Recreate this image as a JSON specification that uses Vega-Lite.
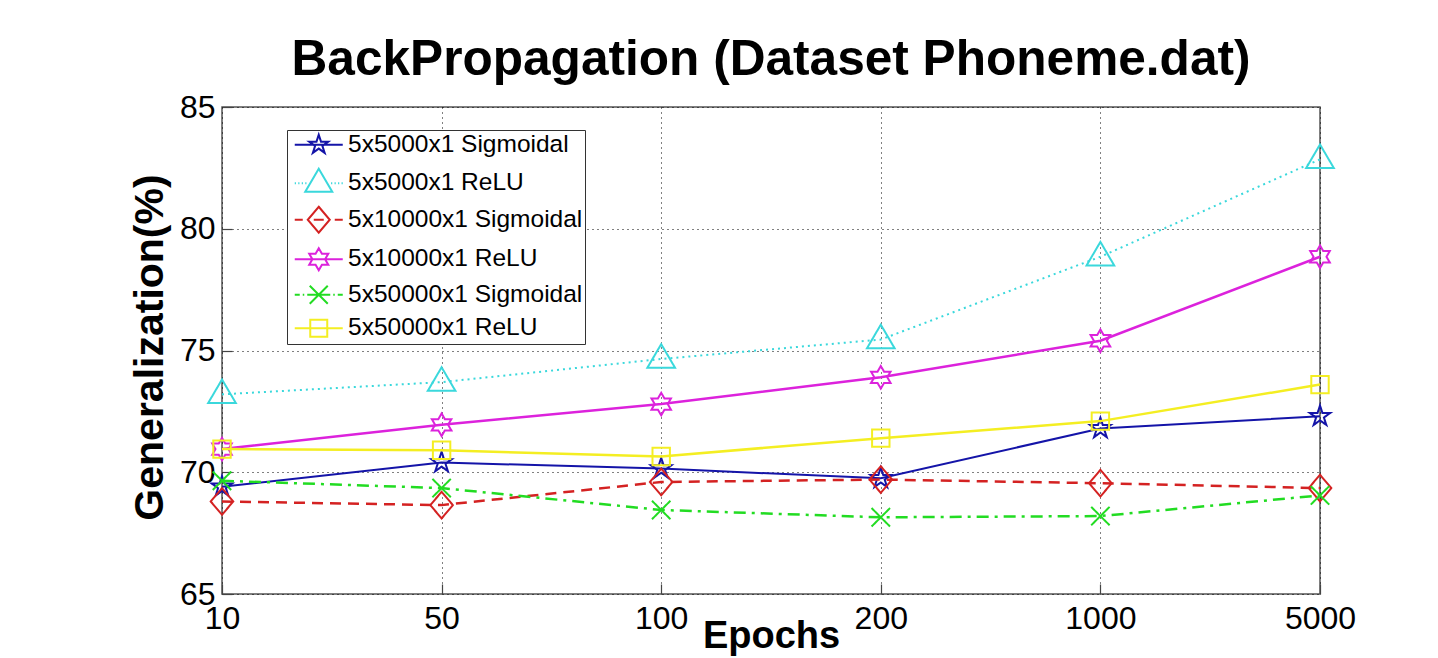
{
  "$schema": "https://vega.github.io/schema/vega-lite/v6.json",
  "width": 1098,
  "height": 487,
  "autosize": {"type": "none"},
  "padding": {"left": 222, "top": 107, "right": 118, "bottom": 64},
  "background": "white",
  "title": {
    "text": "BackPropagation (Dataset Phoneme.dat)",
    "font": "Liberation Sans",
    "fontSize": 49.6,
    "fontWeight": "bold",
    "color": "#000",
    "anchor": "middle",
    "frame": "group",
    "baseline": "alphabetic",
    "offset": -34
  },
  "config": {
    "view": {"stroke": "#555", "strokeWidth": 1.5}
  },
  "data": {
    "values": [
      {"series": "5x5000x1 Sigmoidal", "epochs": "10", "value": 69.4},
      {"series": "5x5000x1 Sigmoidal", "epochs": "50", "value": 70.4},
      {"series": "5x5000x1 Sigmoidal", "epochs": "100", "value": 70.15},
      {"series": "5x5000x1 Sigmoidal", "epochs": "200", "value": 69.75},
      {"series": "5x5000x1 Sigmoidal", "epochs": "1000", "value": 71.8},
      {"series": "5x5000x1 Sigmoidal", "epochs": "5000", "value": 72.3},
      {"series": "5x5000x1 ReLU", "epochs": "10", "value": 73.2},
      {"series": "5x5000x1 ReLU", "epochs": "50", "value": 73.7},
      {"series": "5x5000x1 ReLU", "epochs": "100", "value": 74.65},
      {"series": "5x5000x1 ReLU", "epochs": "200", "value": 75.45},
      {"series": "5x5000x1 ReLU", "epochs": "1000", "value": 78.85},
      {"series": "5x5000x1 ReLU", "epochs": "5000", "value": 82.85},
      {"series": "5x10000x1 Sigmoidal", "epochs": "10", "value": 68.8},
      {"series": "5x10000x1 Sigmoidal", "epochs": "50", "value": 68.65},
      {"series": "5x10000x1 Sigmoidal", "epochs": "100", "value": 69.6},
      {"series": "5x10000x1 Sigmoidal", "epochs": "200", "value": 69.7},
      {"series": "5x10000x1 Sigmoidal", "epochs": "1000", "value": 69.55},
      {"series": "5x10000x1 Sigmoidal", "epochs": "5000", "value": 69.35},
      {"series": "5x10000x1 ReLU", "epochs": "10", "value": 70.95},
      {"series": "5x10000x1 ReLU", "epochs": "50", "value": 71.95},
      {"series": "5x10000x1 ReLU", "epochs": "100", "value": 72.8},
      {"series": "5x10000x1 ReLU", "epochs": "200", "value": 73.9},
      {"series": "5x10000x1 ReLU", "epochs": "1000", "value": 75.4},
      {"series": "5x10000x1 ReLU", "epochs": "5000", "value": 78.85},
      {"series": "5x50000x1 Sigmoidal", "epochs": "10", "value": 69.65},
      {"series": "5x50000x1 Sigmoidal", "epochs": "50", "value": 69.35},
      {"series": "5x50000x1 Sigmoidal", "epochs": "100", "value": 68.45},
      {"series": "5x50000x1 Sigmoidal", "epochs": "200", "value": 68.15},
      {"series": "5x50000x1 Sigmoidal", "epochs": "1000", "value": 68.2},
      {"series": "5x50000x1 Sigmoidal", "epochs": "5000", "value": 69.05},
      {"series": "5x50000x1 ReLU", "epochs": "10", "value": 70.95},
      {"series": "5x50000x1 ReLU", "epochs": "50", "value": 70.9},
      {"series": "5x50000x1 ReLU", "epochs": "100", "value": 70.65},
      {"series": "5x50000x1 ReLU", "epochs": "200", "value": 71.4},
      {"series": "5x50000x1 ReLU", "epochs": "1000", "value": 72.1},
      {"series": "5x50000x1 ReLU", "epochs": "5000", "value": 73.6}
    ]
  },
  "encoding": {
    "x": {
      "field": "epochs",
      "type": "ordinal",
      "sort": ["10", "50", "100", "200", "1000", "5000"],
      "scale": {"type": "point", "padding": 0},
      "axis": {
        "title": "Epochs",
        "titleFont": "Liberation Sans",
        "titleFontSize": 38,
        "titleFontWeight": "bold",
        "titleColor": "#000",
        "titleBaseline": "alphabetic",
        "titleX": 549,
        "titleY": 53,
        "labelFont": "Liberation Sans",
        "labelFontSize": 32,
        "labelColor": "#000",
        "labelAngle": 0,
        "labelPadding": 19,
        "ticks": true,
        "tickSize": -10,
        "tickColor": "#444",
        "tickWidth": 1.2,
        "domain": false,
        "grid": true,
        "gridColor": "#000",
        "gridDash": [1, 4],
        "gridWidth": 1
      }
    },
    "y": {
      "field": "value",
      "type": "quantitative",
      "scale": {"domain": [65, 85], "nice": false, "zero": false},
      "axis": {
        "title": "Generalization(%)",
        "titleFont": "Liberation Sans",
        "titleFontSize": 41,
        "titleFontWeight": "bold",
        "titleColor": "#000",
        "titleBaseline": "alphabetic",
        "titleAngle": -90,
        "titleX": -60,
        "titleY": 240,
        "values": [65, 70, 75, 80, 85],
        "labelFont": "Liberation Sans",
        "labelFontSize": 32,
        "labelColor": "#000",
        "labelPadding": 17,
        "labelFlush": false,
        "ticks": true,
        "tickSize": -10,
        "tickColor": "#444",
        "tickWidth": 1.2,
        "domain": false,
        "grid": true,
        "gridColor": "#000",
        "gridDash": [1, 4],
        "gridWidth": 1
      }
    }
  },
  "layer": [
    {
      "transform": [{"filter": "datum.series === '5x5000x1 Sigmoidal'"}],
      "mark": {"type": "line", "color": "#1414a8", "strokeWidth": 2,
        "point": {"filled": false, "size": 420, "strokeWidth": 2, "strokeDash": [1, 0], "color": "#1414a8",
          "shape": "M0,-1.05L0.236,-0.324L0.999,-0.324L0.381,0.124L0.617,0.849L0,0.401L-0.617,0.849L-0.381,0.124L-0.999,-0.324L-0.236,-0.324Z"}}
    },
    {
      "transform": [{"filter": "datum.series === '5x5000x1 ReLU'"}],
      "mark": {"type": "line", "color": "#3ad8dc", "strokeWidth": 2, "strokeDash": [2, 4],
        "point": {"filled": false, "size": 420, "strokeWidth": 2, "strokeDash": [1, 0], "color": "#3ad8dc",
          "shape": "M0,-1.45L1.35,0.85L-1.35,0.85Z"}}
    },
    {
      "transform": [{"filter": "datum.series === '5x10000x1 Sigmoidal'"}],
      "mark": {"type": "line", "color": "#d42222", "strokeWidth": 2.5, "strokeDash": [11, 7],
        "point": {"filled": false, "size": 420, "strokeWidth": 2, "strokeDash": [1, 0], "color": "#d42222",
          "shape": "M0,-1.3L1.1,0L0,1.3L-1.1,0Z"}}
    },
    {
      "transform": [{"filter": "datum.series === '5x10000x1 ReLU'"}],
      "mark": {"type": "line", "color": "#dc22dc", "strokeWidth": 2.5,
        "point": {"filled": false, "size": 420, "strokeWidth": 2, "strokeDash": [1, 0], "color": "#dc22dc",
          "shape": "M0,-1.1L0.318,-0.55L0.953,-0.55L0.635,0L0.953,0.55L0.318,0.55L0,1.1L-0.318,0.55L-0.953,0.55L-0.635,0L-0.953,-0.55L-0.318,-0.55Z"}}
    },
    {
      "transform": [{"filter": "datum.series === '5x50000x1 Sigmoidal'"}],
      "mark": {"type": "line", "color": "#22dc22", "strokeWidth": 2.5, "strokeDash": [12, 6, 3, 6],
        "point": {"filled": false, "size": 420, "strokeWidth": 2, "strokeDash": [1, 0], "color": "#22dc22",
          "shape": "M-0.9,-0.9L0.9,0.9M-0.9,0.9L0.9,-0.9"}}
    },
    {
      "transform": [{"filter": "datum.series === '5x50000x1 ReLU'"}],
      "mark": {"type": "line", "color": "#f4ee22", "strokeWidth": 2.5,
        "point": {"filled": false, "size": 420, "strokeWidth": 2, "strokeDash": [1, 0], "color": "#f4ee22",
          "shape": "M-0.85,-0.85L0.85,-0.85L0.85,0.85L-0.85,0.85Z"}}
    },
    {
      "transform": [{"filter": "false"}],
      "mark": {"type": "point", "filled": false, "strokeWidth": 2},
      "encoding": {
        "color": {
          "field": "series", "type": "nominal",
          "scale": {
            "domain": ["5x5000x1 Sigmoidal", "5x5000x1 ReLU", "5x10000x1 Sigmoidal", "5x10000x1 ReLU", "5x50000x1 Sigmoidal", "5x50000x1 ReLU"],
            "range": ["#1414a8", "#3ad8dc", "#d42222", "#dc22dc", "#22dc22", "#f4ee22"]
          },
          "legend": {
            "title": null, "orient": "none", "legendX": 65, "legendY": 23,
            "symbolSize": 400, "symbolStrokeWidth": 2, "symbolOpacity": 1, "symbolOffset": 17,
            "labelFont": "Liberation Sans", "labelFontSize": 24.5, "labelColor": "#000", "labelLimit": 400,
            "padding": 2.5, "rowPadding": 6.5, "labelOffset": 17,
            "strokeColor": "#333", "fillColor": "white"
          }
        },
        "shape": {
          "field": "series", "type": "nominal",
          "legend": {
            "title": null, "orient": "none", "legendX": 65, "legendY": 23,
            "symbolSize": 400, "symbolStrokeWidth": 2, "symbolOpacity": 1, "symbolOffset": 17,
            "labelFont": "Liberation Sans", "labelFontSize": 24.5, "labelColor": "#000", "labelLimit": 400,
            "padding": 2.5, "rowPadding": 6.5, "labelOffset": 17,
            "strokeColor": "#333", "fillColor": "white"
          },
          "scale": {
            "domain": ["5x5000x1 Sigmoidal", "5x5000x1 ReLU", "5x10000x1 Sigmoidal", "5x10000x1 ReLU", "5x50000x1 Sigmoidal", "5x50000x1 ReLU"],
            "range": [
              "M-2.4,0L2.4,0M0,-1L0.225,-0.309L0.951,-0.309L0.363,0.118L0.588,0.809L0,0.382L-0.588,0.809L-0.363,0.118L-0.951,-0.309L-0.225,-0.309Z",
              "M-2.4,0L-2.28,0M-2.05,0L-1.93,0M-1.7,0L-1.58,0M-1.35,0L-1.23,0M1.23,0L1.35,0M1.58,0L1.7,0M1.93,0L2.05,0M2.28,0L2.4,0M0,-1.45L1.35,0.85L-1.35,0.85Z",
              "M-2.4,0L-1.6,0M-0.5,0L0.5,0M1.6,0L2.4,0M0,-1.3L1.1,0L0,1.3L-1.1,0Z",
              "M-2.4,0L2.4,0M0,-1.1L0.318,-0.55L0.953,-0.55L0.635,0L0.953,0.55L0.318,0.55L0,1.1L-0.318,0.55L-0.953,0.55L-0.635,0L-0.953,-0.55L-0.318,-0.55Z",
              "M-2.4,0L-1.9,0M-1.6,0L-1.45,0M-1.15,0L1.15,0M1.45,0L1.6,0M1.9,0L2.4,0M-0.9,-0.9L0.9,0.9M-0.9,0.9L0.9,-0.9",
              "M-2.4,0L2.4,0M-0.85,-0.85L0.85,-0.85L0.85,0.85L-0.85,0.85Z"
            ]
          }
        }
      }
    }
  ]
}
